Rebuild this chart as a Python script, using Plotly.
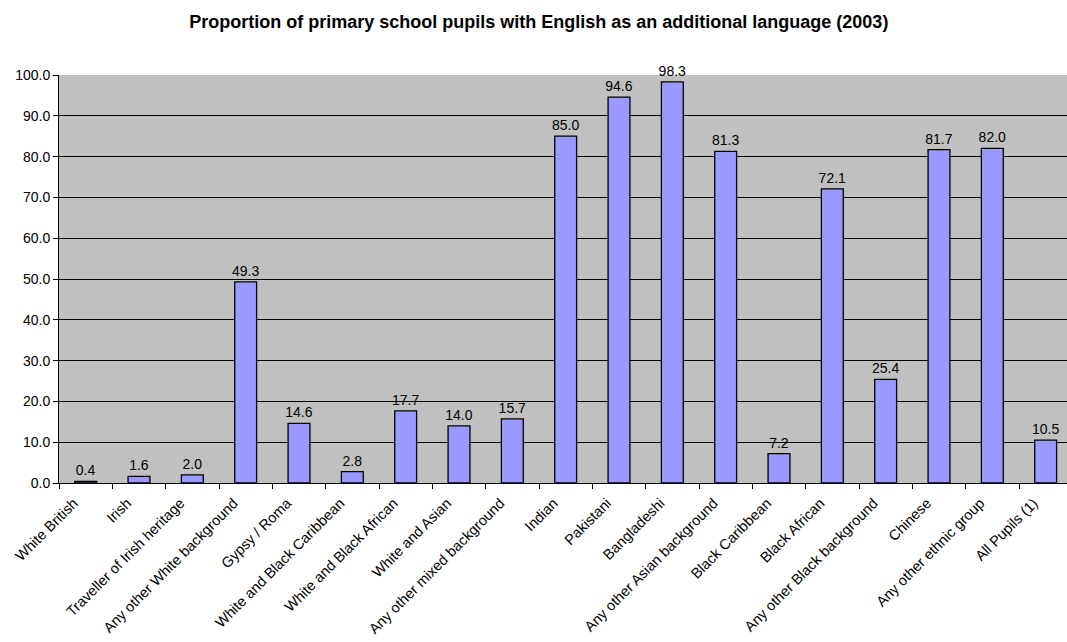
import plotly.graph_objects as go

categories = ["White British", "Irish", "Traveller of Irish heritage", "Any other White background",
              "Gypsy / Roma", "White and Black Caribbean", "White and Black African", "White and Asian",
              "Any other mixed background", "Indian", "Pakistani", "Bangladeshi", "Any other Asian background",
              "Black Caribbean", "Black African", "Any other Black background", "Chinese",
              "Any other ethnic group", "All Pupils (1)"]
values = [0.4, 1.6, 2.0, 49.3, 14.6, 2.8, 17.7, 14.0, 15.7, 85.0, 94.6, 98.3, 81.3, 7.2, 72.1, 25.4, 81.7, 82.0, 10.5]
ytick_vals = [0, 10, 20, 30, 40, 50, 60, 70, 80, 90, 100]

font_family = "Liberation Sans, Arial, sans-serif"

fig = go.Figure(go.Bar(
    x=categories, y=values,
    marker=dict(color="#9999FF", line=dict(color="black", width=1.3)),
    width=0.41,
    text=[f"{v:.1f}" for v in values],
    textposition="outside",
    constraintext="none",
    textfont=dict(family=font_family, size=14, color="black"),
    cliponaxis=False,
))

fig.update_layout(
    width=1067, height=642,
    margin=dict(l=59, r=0, t=75, b=159),
    paper_bgcolor="white",
    plot_bgcolor="#C0C0C0",
    title=dict(text="<b>Proportion of primary school pupils with English as an additional language (2003)</b>",
               x=0.505, xanchor="center", y=1 - 21.5 / 642, yanchor="middle",
               font=dict(family=font_family, size=18, color="black")),
    showlegend=False,
    uniformtext=dict(minsize=14, mode="show"),
)
fig.update_xaxes(
    type="category", range=[-0.5, 18.4], automargin=False,
    tickangle=-45, tickson="boundaries", ticks="outside", ticklen=5, tickcolor="black",
    ticklabelstandoff=5, ticklabelshift=-12,
    showline=True, linecolor="black", linewidth=1,
    showgrid=False,
    tickfont=dict(family=font_family, size=14.5, color="black"),
)
fig.update_yaxes(
    range=[0, 100], tickvals=ytick_vals, tickformat=".1f", automargin=False,
    ticks="outside", ticklen=5, tickcolor="black",
    showline=True, linecolor="black", linewidth=1,
    showgrid=True, gridcolor="black", gridwidth=1,
    zeroline=False,
    tickfont=dict(family=font_family, size=14, color="black"),
)

fig.write_html("out.html")
